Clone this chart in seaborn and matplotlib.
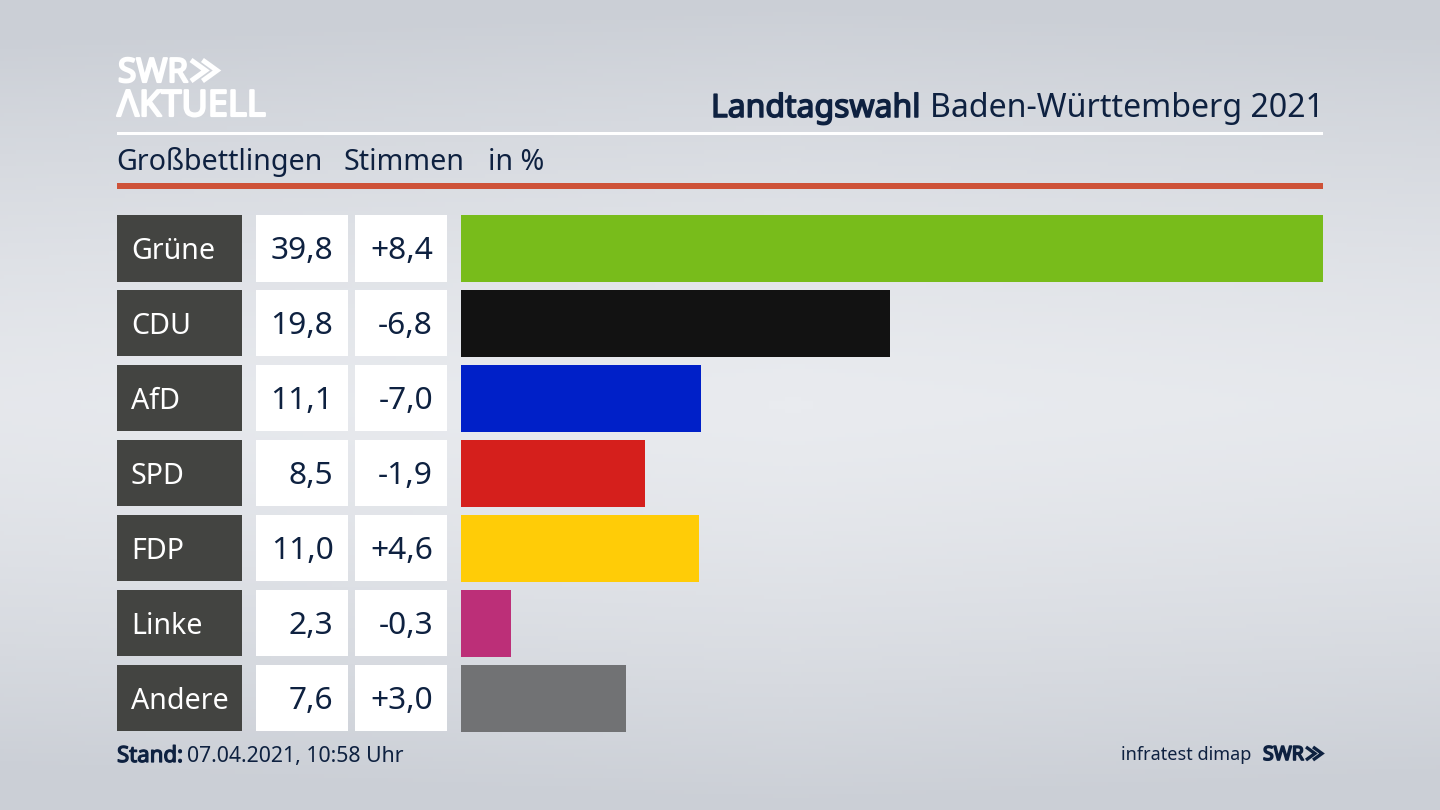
import numpy as np
import matplotlib
matplotlib.use("Agg")
import matplotlib.pyplot as plt
import matplotlib.patheffects as pe
from matplotlib.colors import LinearSegmentedColormap
from matplotlib.patches import Rectangle
import seaborn as sns

parties = ["Grüne", "CDU", "AfD", "SPD", "FDP", "Linke", "Andere"]
votes = [39.8, 19.8, 11.1, 8.5, 11.0, 2.3, 7.6]
changes = [8.4, -6.8, -7.0, -1.9, 4.6, -0.3, 3.0]
colors = ["#78BC1B", "#121212", "#0020C8", "#D51F1C", "#FFCC07", "#BC2F78", "#717274"]
title_bold = "Landtagswahl"
title_rest = "Baden-Württemberg 2021"
sub_parts = ["Großbettlingen", "Stimmen", "in %"]
stand_bold = "Stand:"
stand_text = "07.04.2021, 10:58 Uhr"
source = "infratest dimap"

NAVY = "#0E2140"
sns.set_theme(style="white")
plt.rcParams["font.family"] = ["Noto Sans", "DejaVu Sans"]

W, H = 1440, 810
fig = plt.figure(figsize=(14.4, 8.1), dpi=100)


def heavy(color, width):
    return [pe.withStroke(linewidth=width, foreground=color)]


bg = fig.add_axes([0, 0, 1, 1])
bg.set_xlim(0, W); bg.set_ylim(H, 0); bg.axis("off")


def chevrons(x0, x1, y0, y1, color, lw):
    """The logo's double arrow, fitted into a pixel box."""
    arm = (x1 - x0) * 0.56
    for left in (x0, x1 - arm):
        bg.plot([left, left + arm, left], [y0, (y0 + y1) / 2, y1], color=color, lw=lw,
                solid_joinstyle="miter", solid_capstyle="butt")


yy, xx = np.mgrid[0:1:200j, 0:1:356j]
shade = np.clip(1 - (np.abs(yy - 0.5) / 0.5) ** 1.4 - 0.22 * np.abs(xx - 0.55), 0, 1)
cmap = LinearSegmentedColormap.from_list("bg", ["#CBCFD6", "#E9EBEF"])
bg.imshow(shade, cmap=cmap, extent=(0, W, H, 0), aspect="auto", vmin=0, vmax=1, zorder=0)
bg.set_xlim(0, W); bg.set_ylim(H, 0)

bg.add_patch(Rectangle((117, 132), 1206, 3, color="white", lw=0))
bg.add_patch(Rectangle((117, 183), 1206, 6, color="#CE5238", lw=0))

# logo
bg.text(118, 82, "SWR", color="white", fontsize=24, va="baseline", path_effects=heavy("white", 1.6))
chevrons(191, 217, 60, 81, "white", 3.6)
bg.text(117, 116, "ΛKTUELL", color="white", fontsize=26, va="baseline", path_effects=heavy("white", 1.6))

# header
t = bg.text(1324, 117, title_rest, color=NAVY, fontsize=23.1, ha="right", va="baseline")
fig.canvas.draw()
bb = t.get_window_extent()
bg.text(bb.x0 - 9, 117, title_bold, color=NAVY, fontsize=23, ha="right", va="baseline",
        path_effects=heavy(NAVY, 1.1))
for label, x in zip(sub_parts, [116.5, 343.5, 488]):
    bg.text(x, 170, label, color=NAVY, fontsize=20.6, va="baseline")

# table
for i, (p, v, c) in enumerate(zip(parties, votes, changes)):
    top = 215 + 74.95 * i
    h = 66.5
    bg.add_patch(Rectangle((117, top), 124.5, h, color="#434441", lw=0))
    bg.add_patch(Rectangle((255.5, top), 92.5, h, color="white", lw=0))
    bg.add_patch(Rectangle((354.5, top), 92.5, h, color="white", lw=0))
    base = top + 44
    bg.text(131, base, p, color="white", fontsize=20.6, va="baseline")
    bg.text(333.5, base, f"{v:.1f}".replace(".", ","), color=NAVY, fontsize=22.8, ha="right", va="baseline")
    bg.text(433, base, f"{c:+.1f}".replace(".", ","), color=NAVY, fontsize=22.8, ha="right", va="baseline")

# footer
bg.text(117, 762, stand_bold, color=NAVY, fontsize=16, va="baseline", path_effects=heavy(NAVY, 0.9))
bg.text(187, 762, stand_text, color=NAVY, fontsize=15.3, va="baseline")
bg.text(1251, 760, source, color=NAVY, fontsize=13, ha="right", va="baseline")
bg.text(1263, 760, "SWR", color=NAVY, fontsize=14, va="baseline", path_effects=heavy(NAVY, 1.2))
chevrons(1306, 1322, 747, 760, NAVY, 2.4)

# bars
ax = fig.add_axes([461 / W, 1 - 736 / H, (1323 - 461) / W, 525 / H])
ax.patch.set_alpha(0)
sns.barplot(x=votes, y=parties, hue=parties, palette=colors, saturation=1,
            width=0.887, dodge=False, legend=False, linewidth=0, ax=ax)
ax.set_xlim(0, 39.8)
ax.set_ylim(6.5, -0.5)
ax.axis("off")

fig.savefig("out.png", dpi=100)
